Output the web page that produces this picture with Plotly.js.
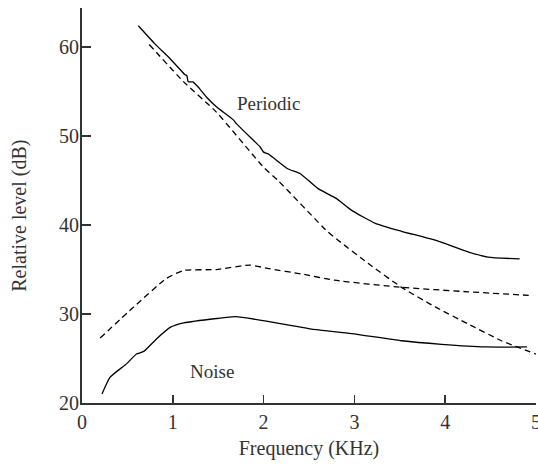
<!DOCTYPE html>
<html>
<head>
<meta charset="utf-8">
<script src="https://cdn.plot.ly/plotly-3.0.1.min.js"></script>
<style>html,body{margin:0;padding:0;background:#fff;}#chart{width:538px;height:465px;}</style>
</head>
<body>
<div id="chart"></div>
<script>
// Periodic, solid (measured)
const periodicSolidX = [0.62, 0.80, 0.97, 1.135, 1.155, 1.17, 1.22, 1.29, 1.37, 1.48, 1.67, 1.70, 1.89, 1.96, 2.00, 2.05, 2.27, 2.40, 2.60, 2.80, 2.97, 3.23, 3.52, 3.89, 4.25, 4.47, 4.82];
const periodicSolidY = [62.4, 60.4, 58.7, 56.9, 56.8, 56.1, 56.1, 55.4, 54.4, 53.3, 51.8, 51.4, 49.5, 48.8, 48.2, 48.0, 46.3, 45.8, 44.1, 43.0, 41.65, 40.2, 39.3, 38.3, 37.0, 36.4, 36.2];
// Periodic, dashed (model)
const periodicDashX = [0.74, 1.12, 1.48, 2.00, 2.16, 2.70, 2.82, 3.15, 3.52, 3.89, 4.25, 4.62, 5.00];
const periodicDashY = [60.3, 56.1, 52.7, 46.5, 45.0, 39.3, 38.3, 35.7, 33.0, 30.8, 28.9, 27.0, 25.5];
// Noise, dashed
const noiseDashX = [0.20, 0.57, 0.93, 1.12, 1.48, 1.85, 2.06, 2.42, 2.78, 3.52, 4.25, 4.92];
const noiseDashY = [27.3, 30.8, 34.0, 34.9, 35.0, 35.5, 35.1, 34.5, 33.8, 33.0, 32.5, 32.1];
// Noise, solid
const noiseSolidX = [0.22, 0.31, 0.49, 0.60, 0.68, 0.82, 0.97, 1.12, 1.48, 1.69, 2.06, 2.31, 2.53, 2.97, 3.52, 3.96, 4.44, 4.90];
const noiseSolidY = [21.0, 22.9, 24.4, 25.5, 25.8, 27.2, 28.5, 29.0, 29.5, 29.7, 29.15, 28.7, 28.3, 27.8, 27.0, 26.6, 26.3, 26.3];

const labels = [
  {text: 'Periodic', x: 2.05, y: 53.7},
  {text: 'Noise', x: 1.43, y: 23.5}
];
const xTitle = 'Frequency (KHz)';
const yTitle = 'Relative level (dB)';

const font = 'Liberation Serif, Times New Roman, serif';
const solid = {color: '#000', width: 1.3, shape: 'spline', smoothing: 0.5};
const dashed = {color: '#000', width: 1.3, dash: '6px,4px', shape: 'spline', smoothing: 0.5};

const data = [
  {x: periodicSolidX, y: periodicSolidY, mode: 'lines', line: solid, name: 'Periodic'},
  {x: periodicDashX, y: periodicDashY, mode: 'lines', line: dashed, name: 'Periodic (model)'},
  {x: noiseDashX, y: noiseDashY, mode: 'lines', line: dashed, name: 'Noise (model)'},
  {x: noiseSolidX, y: noiseSolidY, mode: 'lines', line: solid, name: 'Noise'}
];

const anns = labels.map(l => ({
  x: l.x, y: l.y, xref: 'x', yref: 'y', text: l.text, showarrow: false,
  font: {family: font, size: 19, color: '#333'}
}));
anns.push({
  x: -0.1366, y: 0.474, xref: 'paper', yref: 'paper', text: yTitle, showarrow: false,
  textangle: -90, xanchor: 'center', yanchor: 'middle',
  font: {family: font, size: 20, color: '#333'}
});

const layout = {
  width: 538, height: 465,
  margin: {l: 82, r: 2, t: 8, b: 62},
  showlegend: false,
  paper_bgcolor: '#fff', plot_bgcolor: '#fff',
  font: {family: font, size: 19, color: '#333'},
  xaxis: {
    range: [0, 5], tickvals: [0, 1, 2, 3, 4, 5],
    showline: true, linecolor: '#333', linewidth: 2,
    ticks: 'inside', ticklen: 8, tickwidth: 1.5, tickcolor: '#333',
    showgrid: false, zeroline: false, ticklabeloverflow: 'allow',
    tickfont: {family: font, size: 20, color: '#333'},
    title: {text: xTitle, font: {family: font, size: 20, color: '#333'}, standoff: 9}
  },
  yaxis: {
    range: [20, 64.4], tickvals: [20, 30, 40, 50, 60],
    showline: true, linecolor: '#333', linewidth: 2,
    ticks: 'inside', ticklen: 9, tickwidth: 1.5, tickcolor: '#333',
    showgrid: false, zeroline: false, ticklabelstandoff: -3,
    tickfont: {family: font, size: 20, color: '#333'}
  },
  annotations: anns
};

Plotly.newPlot('chart', data, layout, {displayModeBar: false, staticPlot: true});
</script>
</body>
</html>
